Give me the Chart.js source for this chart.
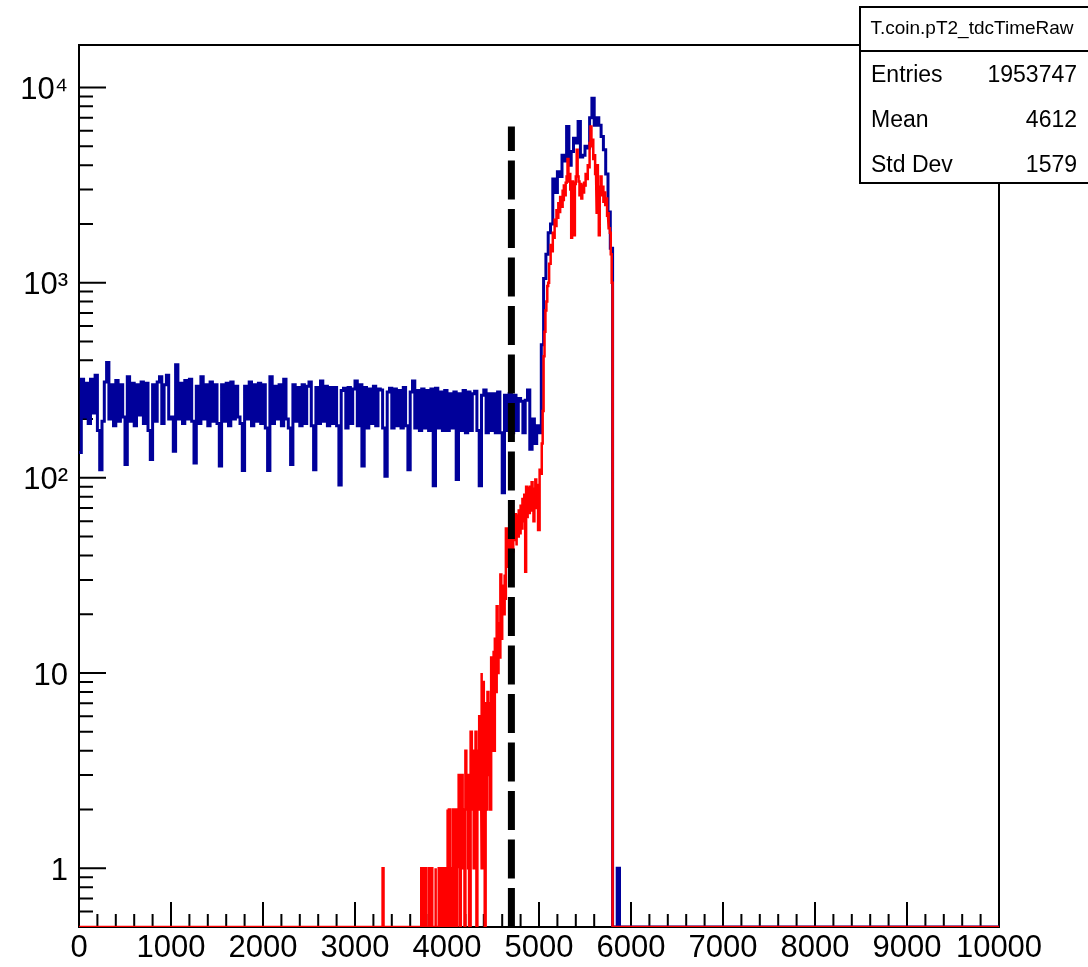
<!DOCTYPE html>
<html>
<head>
<meta charset="utf-8">
<title>T.coin.pT2_tdcTimeRaw</title>
<script src="https://cdn.jsdelivr.net/npm/chart.js@4.4.1/dist/chart.umd.min.js"></script>
<style>
  html, body { margin: 0; padding: 0; background: #ffffff; }
  #wrap { width: 1088px; height: 967px; position: relative; }
</style>
</head>
<body>
<div id="wrap"><canvas id="chart"></canvas></div>
<script>
// histogram binning (x = tdc time, raw units)
const X_MIN = 0;
const X_MAX = 10000;
const Y_MIN = 0.5;
const Y_MAX = 16500;

// all hits, 25-wide bins starting at 0 (everything after is empty)
const BLUE_START = 0;
const BLUE_BIN = 25;
const blueCounts = [
  135, 320, 205, 305, 190, 320, 215, 335, 175, 110,
  195, 310, 390, 200, 300, 185, 315, 195, 300, 205,
  117, 330, 195, 305, 185, 300, 210, 310, 190, 305,
  175, 124, 300, 195, 310, 330, 190, 300, 335, 200,
  205, 137, 380, 200, 305, 190, 315, 200, 320, 195,
  119, 295, 190, 330, 200, 300, 185, 310, 195, 300,
  190, 115, 300, 195, 305, 185, 310, 200, 295, 205,
  190, 109, 295, 200, 310, 185, 300, 195, 305, 190,
  300, 180, 109, 330, 190, 295, 200, 300, 185, 320,
  200, 180, 117, 300, 195, 290, 185, 300, 190, 295,
  310, 185, 110, 290, 190, 313, 195, 295, 185, 290,
  190, 290, 185, 92, 280, 288, 180, 290, 190, 285,
  313, 185, 300, 115, 290, 180, 285, 190, 295, 185,
  285, 282, 180, 102, 275, 288, 180, 285, 185, 280,
  180, 290, 185, 110, 275, 313, 180, 280, 175, 285,
  180, 280, 175, 285, 91, 288, 180, 275, 175, 280,
  175, 270, 180, 275, 98, 270, 175, 280, 170, 275,
  175, 270, 278, 175, 91, 265, 282, 170, 270, 175,
  270, 170, 275, 170, 84, 265, 175, 270, 170, 265,
  175, 255, 247, 170, 250, 282, 140, 200, 150, 185,
  170, 480, 1050, 1400, 1800, 2000, 3400, 2900, 3700, 3500,
  4500, 4200, 6300, 4000, 4700, 5500, 5200, 6700, 4400, 4500,
  5000, 4900, 7000, 8800, 6400, 7000, 6400, 5600, 4800, 3600,
  2300, 1500, 0, 0, 1
];

// selected hits, 10-wide bins starting at 3250 (empty before and after)
const RED_START = 3250;
const RED_BIN = 10;
const redCounts = [
  0, 0, 0, 0, 0, 1, 0, 0, 0, 0,
  0, 0, 0, 0, 0, 0, 0, 0, 0, 0,
  0, 0, 0, 0, 0, 0, 0, 0, 0, 0,
  0, 0, 0, 0, 0, 0, 0, 0, 0, 0,
  0, 0, 0, 0, 0, 0, 0, 1, 0, 0,
  0, 1, 0, 0, 0, 1, 0, 0, 1, 0,
  0, 0, 1, 0, 0, 0, 1, 0, 0, 1,
  0, 1, 1, 0, 1,
  2, 0, 2, 1, 0, 1, 2, 0, 1, 2,
  0, 2, 1, 3, 0, 2, 3, 1, 2, 0,
  4, 2, 3, 1, 0, 3, 5, 2, 4, 1,
  3, 5, 0, 4, 2, 6, 3, 10, 1, 9,
  4, 0, 7, 2, 8, 3, 7, 2, 12, 5,
  13, 4, 15, 8, 22, 10, 18, 12, 32, 15,
  28, 20, 32, 24, 55, 35, 50, 38, 52, 40,
  55, 42, 62, 48, 65, 45, 58, 50, 68, 52,
  72, 55, 78, 60, 82, 33, 90, 62, 88, 66,
  90, 68, 95, 72, 60, 88, 98, 70, 92, 54,
  95, 110, 105, 150, 220, 420, 560, 720, 800, 960,
  1000, 1250, 1250, 1560, 1450, 1800, 1700, 2100, 1950, 2350,
  2150, 2550, 2300, 2750, 2450, 3000, 2650, 3150, 2800, 3250,
  3500, 4300, 3300, 3600, 3000, 1700, 3300, 2700, 1750, 3200,
  3500, 4800, 3500, 3300, 2800, 3200, 2700, 3150, 2900, 3250,
  3100, 3600, 3400, 4000, 3900, 5200, 6300, 5000, 5400, 4300,
  4500, 3600, 2250, 4000, 3000, 1750, 3100, 3500, 2800, 3100,
  2600, 2900, 2500, 2700, 2200, 2300, 1900, 1800, 1400, 1000
];

// timing cut
const cutX = 4700;
const cutTop = 6300;

// axis ticks
const X_MAJOR = 1000;
const X_MINOR = 200;
const yTicks = [1, 10, 100, 1000, 10000];
const yTickLabels = ["1", "10", "10²", "10³", "10⁴"];

// stats box
const statTitle = "T.coin.pT2_tdcTimeRaw";
const statNames = ["Entries", "Mean", "Std Dev"];
const statValues = ["1953747", "4612", "1579"];

const FONT = "'Liberation Sans', Arial, Helvetica, sans-serif";

// turn bin contents into a step outline, empty bins sit on the bottom of the frame
function histPoints (start, width, counts) {
  const pts = [];
  if (start > X_MIN) {
    pts.push({ x: X_MIN, y: Y_MIN }, { x: start, y: Y_MIN });
  }
  counts.forEach((c, i) => {
    const v = c > 0 ? c : Y_MIN;
    pts.push({ x: start + i * width, y: v }, { x: start + (i + 1) * width, y: v });
  });
  const end = start + counts.length * width;
  pts.push({ x: end, y: Y_MIN }, { x: X_MAX, y: Y_MIN });
  return pts;
}

const rootFrame = {
  id: "rootFrame",
  beforeDatasetsDraw (chart) {
    const { ctx, chartArea: a, scales } = chart;
    ctx.save();
    ctx.strokeStyle = "#000000";
    ctx.lineWidth = 2;
    ctx.strokeRect(a.left, a.top, a.right - a.left, a.bottom - a.top);
    ctx.beginPath();
    for (let v = X_MIN; v <= X_MAX; v += X_MINOR) {
      const px = scales.x.getPixelForValue(v);
      const len = v % X_MAJOR === 0 ? 25 : 13;
      ctx.moveTo(px, a.bottom);
      ctx.lineTo(px, a.bottom - len);
    }
    for (let d = -1; d <= 4; d++) {
      for (let m = 1; m <= 9; m++) {
        const v = m * Math.pow(10, d);
        if (v <= Y_MIN + 1e-9 || v > Y_MAX) continue;
        const py = scales.y.getPixelForValue(v);
        const len = m === 1 ? 27 : 14;
        ctx.moveTo(a.left, py);
        ctx.lineTo(a.left + len, py);
      }
    }
    ctx.stroke();
    ctx.restore();
  }
};

const statsBox = {
  id: "statsBox",
  afterDraw (chart) {
    const ctx = chart.ctx;
    const left = 860, top = 7, right = 1092, bottom = 183, sep = 51;
    ctx.save();
    ctx.fillStyle = "#ffffff";
    ctx.fillRect(left, top, right - left, bottom - top);
    ctx.strokeStyle = "#000000";
    ctx.lineWidth = 2;
    ctx.strokeRect(left, top, right - left, bottom - top);
    ctx.beginPath();
    ctx.moveTo(left, sep);
    ctx.lineTo(right, sep);
    ctx.stroke();

    ctx.fillStyle = "#000000";
    ctx.textBaseline = "alphabetic";
    ctx.font = "19px " + FONT;
    ctx.textAlign = "center";
    ctx.fillText(statTitle, 972, 34);

    ctx.font = "23px " + FONT;
    statNames.forEach((name, i) => {
      const base = 82 + i * 45;
      ctx.textAlign = "left";
      ctx.fillText(name, 871, base);
      ctx.textAlign = "right";
      ctx.fillText(statValues[i], 1077, base);
    });
    ctx.restore();
  }
};

new Chart(document.getElementById("chart"), {
  type: "line",
  data: {
    datasets: [
      {
        label: "cut",
        data: [{ x: cutX, y: Y_MIN }, { x: cutX, y: cutTop }],
        borderColor: "#000000",
        borderWidth: 7,
        borderDash: [39, 9.5],
        borderCapStyle: "butt",
        pointRadius: 0,
        order: 0
      },
      {
        label: "selected",
        data: histPoints(RED_START, RED_BIN, redCounts),
        borderColor: "#ff0000",
        borderWidth: 2.5,
        pointRadius: 0,
        order: 1
      },
      {
        label: "T.coin.pT2_tdcTimeRaw",
        data: histPoints(BLUE_START, BLUE_BIN, blueCounts),
        borderColor: "#00009a",
        borderWidth: 3,
        pointRadius: 0,
        order: 2
      }
    ]
  },
  options: {
    responsive: true,
    maintainAspectRatio: false,
    animation: false,
    layout: { padding: { top: 45, right: 89, left: 0, bottom: 0 } },
    plugins: {
      legend: { display: false },
      tooltip: { enabled: false }
    },
    scales: {
      x: {
        type: "linear",
        min: X_MIN,
        max: X_MAX,
        grid: { display: false, drawTicks: false },
        border: { display: false },
        afterFit: (scale) => { scale.height = 40; },
        ticks: {
          stepSize: X_MAJOR,
          autoSkip: false,
          maxRotation: 0,
          minRotation: 0,
          padding: 3,
          color: "#000000",
          font: { family: FONT, size: 31 },
          callback: (value) => String(value)
        }
      },
      y: {
        type: "logarithmic",
        min: Y_MIN,
        max: Y_MAX,
        grid: { display: false, drawTicks: false },
        border: { display: false },
        afterFit: (scale) => { scale.width = 79; },
        afterBuildTicks: (scale) => {
          scale.ticks = yTicks.map((v) => ({ value: v }));
        },
        ticks: {
          padding: 11,
          labelOffset: 3,
          color: "#000000",
          font: { family: FONT, size: 31 },
          callback: (value) => {
            const i = yTicks.indexOf(value);
            return i >= 0 ? yTickLabels[i] : "";
          }
        }
      }
    }
  },
  plugins: [rootFrame, statsBox]
});
</script>
</body>
</html>
